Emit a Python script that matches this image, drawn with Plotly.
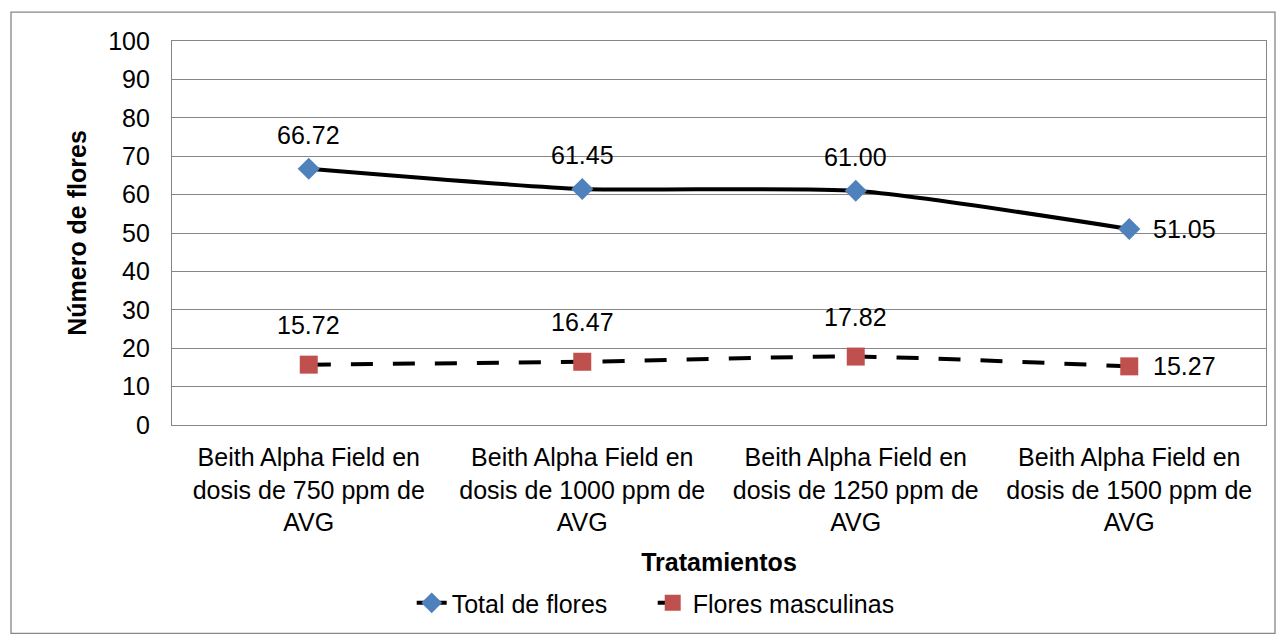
import plotly.graph_objects as go

categories = [
    "Beith Alpha Field en<br>dosis de 750 ppm de<br>AVG",
    "Beith Alpha Field en<br>dosis de 1000 ppm de<br>AVG",
    "Beith Alpha Field en<br>dosis de 1250 ppm de<br>AVG",
    "Beith Alpha Field en<br>dosis de 1500 ppm de<br>AVG",
]
total_flores = [66.72, 61.45, 61.00, 51.05]
flores_masculinas = [15.72, 16.47, 17.82, 15.27]

FONT = "Liberation Sans, Arial, sans-serif"
FS = 25

fig = go.Figure()
fig.add_trace(go.Scatter(
    x=categories, y=total_flores, name="Total de flores",
    mode="lines+markers",
    line=dict(color="black", width=4, shape="spline", smoothing=0.6),
    marker=dict(symbol="diamond", size=17, color="#4F81BD"),
))
fig.add_trace(go.Scatter(
    x=categories, y=flores_masculinas, name="Flores masculinas",
    mode="lines+markers",
    line=dict(color="black", width=4, dash="22px,20px", shape="spline", smoothing=0.6),
    marker=dict(symbol="square", size=18, color="#C0504D"),
))

# data labels
for i, (c, v) in enumerate(zip(categories, total_flores)):
    if i == len(categories) - 1:
        fig.add_annotation(x=c, y=v, text=f"{v:.2f}", showarrow=False,
                           xanchor="left", xshift=22, font=dict(size=FS, family=FONT, color="black"))
    else:
        fig.add_annotation(x=c, y=v, text=f"{v:.2f}", showarrow=False,
                           yshift=34, font=dict(size=FS, family=FONT, color="black"))
for i, (c, v) in enumerate(zip(categories, flores_masculinas)):
    if i == len(categories) - 1:
        fig.add_annotation(x=c, y=v, text=f"{v:.2f}", showarrow=False,
                           xanchor="left", xshift=22, font=dict(size=FS, family=FONT, color="black"))
    else:
        fig.add_annotation(x=c, y=v, text=f"{v:.2f}", showarrow=False,
                           yshift=40, font=dict(size=FS, family=FONT, color="black"))

# outer chart border
fig.add_shape(type="rect", xref="paper", yref="paper",
              x0=-161/1094, x1=(1275-172)/1094, y0=-(635-426)/385, y1=(426-12)/385,
              line=dict(color="#868686", width=1.3), fillcolor="rgba(0,0,0,0)", layer="below")

fig.update_layout(
    width=1283, height=636,
    margin=dict(l=172, r=17, t=41, b=210),
    paper_bgcolor="white", plot_bgcolor="white",
    font=dict(family=FONT, size=FS, color="black"),
    showlegend=True,
    legend=dict(orientation="h", x=0.4394, y=-0.46, xanchor="center", yanchor="middle",
                font=dict(size=FS), traceorder="normal",
                entrywidth=196, entrywidthmode="pixels"),
    xaxis=dict(
        showgrid=False, showline=True, linecolor="#868686", linewidth=1.3,
        mirror=True, ticks="", tickfont=dict(size=FS), ticklabelstandoff=10,
        title=dict(text="<b>Tratamientos</b>", font=dict(size=FS), standoff=18),
        range=[-0.5, 3.5],
    ),
    yaxis=dict(
        range=[0, 100], dtick=10, showgrid=True, gridcolor="#868686", gridwidth=1.3,
        showline=True, linecolor="#868686", linewidth=1.3, mirror=True,
        ticks="", tickfont=dict(size=FS), zeroline=False, ticklabelstandoff=16,
        title=dict(text="<b>Número de flores</b>", font=dict(size=FS), standoff=14),
    ),
)

fig.write_html("out.html")
